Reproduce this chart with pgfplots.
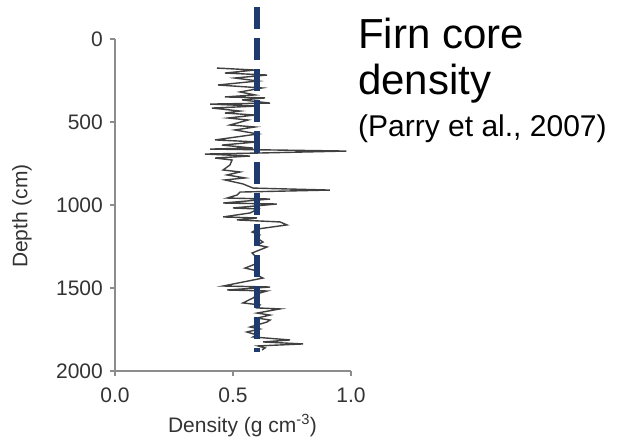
\documentclass[border=0pt]{standalone}
\usepackage{fontspec}
\setmainfont{Liberation Sans}
\usepackage{pgfplots}
\pgfplotsset{compat=1.18}
\definecolor{navy}{HTML}{1F3A6F}
\definecolor{axgray}{HTML}{8C8C8C}
\begin{document}
\fontsize{21}{25}\selectfont
\begin{tikzpicture}[x=1pt,y=1pt]
\path[use as bounding box] (0,0) rectangle (619,445);
\begin{axis}[
  at={(115pt,74pt)}, anchor=south west,
  scale only axis, width=236pt, height=332pt,
  xmin=0, xmax=1, ymin=0, ymax=2000, y dir=reverse,
  axis x line*=bottom, axis y line*=left,
  axis line style={-, draw=axgray, line width=1.3pt},
  xtick={0,0.5,1}, ytick={0,500,1000,1500,2000},
  xticklabel style={yshift=-5pt, /pgf/number format/.cd, fixed, fixed zerofill, precision=1},
  yticklabel style={/pgf/number format/.cd, 1000 sep={}},
  /pgf/number format/assume math mode=true,
  scaled ticks=false,
  tick align=outside, major tick length=5pt,
  tick style={draw=axgray, line width=1.2pt},
  tick label style={font=\fontsize{21}{25}\selectfont, text=black!80},
  clip=false,
]
\addplot[color=black!75, line width=1.4pt] table {
x y
0.432 175
0.593 187
0.466 205
0.644 217
0.508 235
0.606 253
0.436 277
0.623 295
0.530 319
0.593 337
0.466 349
0.636 355
0.538 367
0.657 386
0.403 392
0.602 404
0.411 416
0.530 434
0.466 446
0.593 458
0.479 476
0.564 488
0.487 518
0.593 530
0.508 548
0.606 572
0.424 608
0.602 620
0.453 639
0.585 657
0.403 663
0.98 675
0.606 687
0.381 693
0.572 705
0.424 717
0.496 729
0.487 759
0.458 789
0.530 801
0.475 819
0.551 837
0.466 849
0.542 873
0.585 898
0.91 910
0.530 922
0.517 940
0.475 958
0.657 964
0.458 988
0.686 994
0.500 1018
0.606 1024
0.572 1048
0.458 1072
0.602 1078
0.517 1090
0.699 1102
0.729 1120
0.602 1145
0.581 1163
0.614 1181
0.602 1199
0.627 1223
0.602 1241
0.644 1253
0.581 1289
0.602 1319
0.606 1349
0.551 1380
0.606 1398
0.602 1422
0.627 1440
0.458 1488
0.657 1494
0.475 1512
0.644 1518
0.614 1530
0.585 1560
0.542 1590
0.614 1602
0.602 1620
0.699 1626
0.602 1651
0.657 1663
0.602 1681
0.657 1693
0.644 1705
0.572 1735
0.614 1747
0.559 1765
0.602 1783
0.585 1795
0.742 1813
0.627 1825
0.797 1837
0.606 1849
0.636 1861
0.623 1873
};
\addplot[color=navy, line width=6pt, dash pattern=on 22pt off 9pt] coordinates {(0.6,-190) (0.6,1885)};
\end{axis}
\node[anchor=base, text=black!80] at (242.5,13) {Density (g cm\textsuperscript{-3})};
\node[anchor=center, rotate=90, text=black!80] at (22,229) {Depth (cm)};
\node[anchor=base west, font=\fontsize{42}{48}\selectfont] at (351,396) {Firn core};
\node[anchor=base west, font=\fontsize{42}{48}\selectfont] at (351,350) {density};
\node[anchor=base west, font=\fontsize{30}{36}\selectfont] at (351,308) {(Parry et al., 2007)};
\end{tikzpicture}
\end{document}
